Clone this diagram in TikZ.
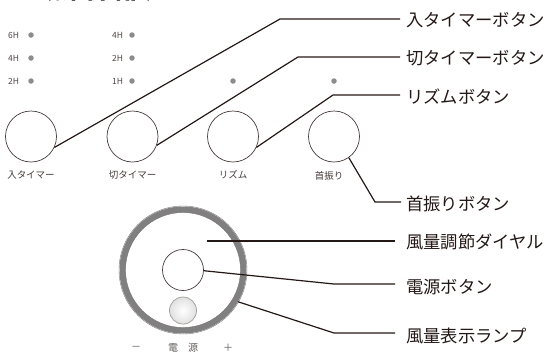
\documentclass[tikz,border=0pt]{standalone}
\usepackage{fontspec}
\newfontfamily\jp{Noto Sans CJK JP}
\newfontfamily\jpb{Noto Sans CJK JP Bold}
\definecolor{ink}{HTML}{231815}
\definecolor{ledgray}{HTML}{8C8C8C}
\definecolor{ringgray}{HTML}{808080}
\begin{document}
\begin{tikzpicture}[x=1pt,y=-1pt,
  btn/.style={circle,draw=ink!85,line width=0.7pt,minimum size=51pt,inner sep=0pt},
  led/.style={circle,fill=ledgray,minimum size=5.5pt,inner sep=0pt},
  ledlab/.style={font=\jp\fontsize{8.5}{8.5}\selectfont,text=ink!80,inner sep=0pt},
  btnlab/.style={font=\jp\fontsize{9.5}{9.5}\selectfont,text=ink!85,inner sep=0pt},
  callout/.style={font=\jp\fontsize{17.3}{17.3}\selectfont,text=ink,anchor=west,inner sep=0pt},
  leader/.style={draw=ink,line width=1.2pt},
  dlab/.style={font=\jp\fontsize{10}{10}\selectfont,text=ink!70,inner sep=0pt}]
\useasboundingbox (0,0) rectangle (544,354);
% title (cut off at the top)
\node[font=\jpb\fontsize{30}{30}\selectfont,anchor=base west,inner sep=0pt,text=ink] (title) at (24,-2) {〈操作部〉};
% LEDs
\node[led] (l1a) at (31,35) {};
\node[led] (l1b) at (31,58) {};
\node[led] (l1c) at (31,81) {};
\node[ledlab] (t1a) at (13.5,35) {6H};
\node[ledlab] (t1b) at (13.5,58) {4H};
\node[ledlab] (t1c) at (13.5,81) {2H};
\node[led] (l2a) at (132,35) {};
\node[led] (l2b) at (132,58) {};
\node[led] (l2c) at (132,81) {};
\node[ledlab] (t2a) at (117.5,35) {4H};
\node[ledlab] (t2b) at (117.5,58) {2H};
\node[ledlab] (t2c) at (117.5,81) {1H};
\node[led] (l3) at (233,81) {};
\node[led] (l4) at (334,81) {};
% buttons
\node[btn] (b1) at (31,136.5) {};
\node[btn] (b2) at (132.5,136.5) {};
\node[btn] (b3) at (233,136.5) {};
\node[btn] (b4) at (334,136.5) {};
\node[btnlab] (bl1) at (31,175) {入タイマー};
\node[btnlab] (bl2) at (132.5,175) {切タイマー};
\node[btnlab] (bl3) at (233,175) {リズム};
\node[btnlab] (bl4) at (329,175.5) {首振り};
% dial
\node[circle,draw=ringgray,line width=6pt,minimum size=121pt,inner sep=0pt] (dial) at (183,270) {};
\draw[ink!60,line width=0.4pt] (dial.center) circle (64);
\draw[ink!60,line width=0.4pt] (dial.center) circle (57.5);
\node[circle,draw=ink!85,line width=0.7pt,minimum size=41pt,inner sep=0pt] (pwr) at (183,270) {};
\node[circle,draw=ink!40,line width=0.8pt,minimum size=27pt,inner sep=0pt,inner color=white,outer color=black!12] (lamp) at (183,310.5) {};
\node[dlab] (dm) at (136,348) {－};
\node[dlab] (d1) at (173,348) {電};
\node[dlab] (d2) at (193,348) {源};
\node[dlab] (dp) at (228,348) {＋};
% callout texts
\node[callout] (c1) at (406,20) {入タイマーボタン};
\node[callout] (c2) at (406,58) {切タイマーボタン};
\node[callout] (c3) at (406,97) {リズムボタン};
\node[callout] (c4) at (406,204) {首振りボタン};
\node[callout] (c5) at (406,242) {風量調節ダイヤル};
\node[callout] (c6) at (406,287) {電源ボタン};
\node[callout] (c7) at (406,336) {風量表示ランプ};
% leader lines
\coordinate (k1) at (280,19);
\coordinate (k2) at (298,57);
\coordinate (k3) at (333,95);
\coordinate (k4) at (375,202);
\coordinate (k6) at (334,284);
\coordinate (k7) at (334,333);
\coordinate (s5) at (207,241);
\draw[leader] (b1.-25) -- (k1) -- ([xshift=-6pt]c1.west |- k1);
\draw[leader] (b2.-20) -- (k2) -- ([xshift=-6pt]c2.west |- k2);
\draw[leader] (b3.-25) -- (k3) -- ([xshift=-6pt]c3.west |- k3);
\draw[leader] (b4.-55) -- (k4) -- ([xshift=-5pt]c4.west |- k4);
\draw[leader] (s5) -- ([xshift=-11pt]c5.west |- s5);
\draw[leader] (pwr.-2) -- (k6) -- ([xshift=-11pt]c6.west |- k6);
\draw[leader] (dial.-30) -- (k7) -- ([xshift=-11pt]c7.west |- k7);
\end{tikzpicture}
\end{document}
